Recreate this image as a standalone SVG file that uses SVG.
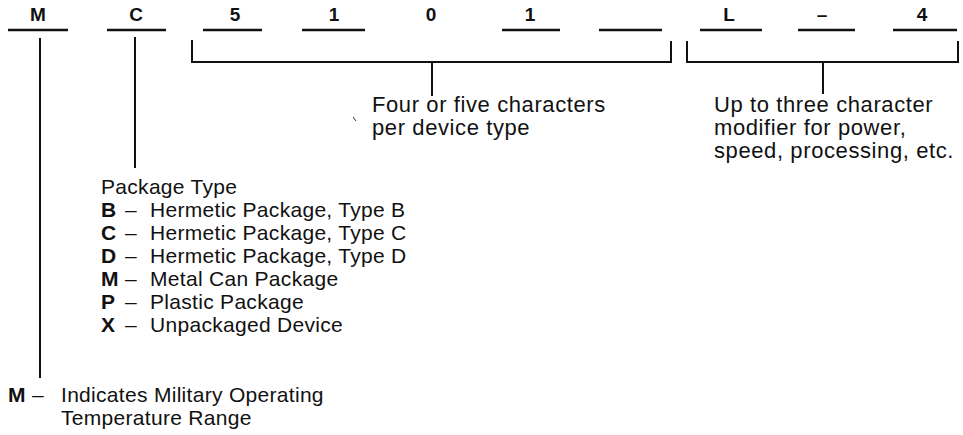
<svg xmlns="http://www.w3.org/2000/svg" width="963" height="435" viewBox="0 0 963 435">
<style>
.t{font-family:"Liberation Sans",Arial,sans-serif;font-size:21px;letter-spacing:0.3px;fill:#111}
.r{font-family:"Liberation Sans",Arial,sans-serif;font-size:22px;letter-spacing:0.6px;fill:#111}
.b{font-family:"Liberation Sans",Arial,sans-serif;font-size:21px;font-weight:bold;fill:#111}
.h{font-family:"Liberation Sans",Arial,sans-serif;font-size:19px;font-weight:bold;fill:#111;text-anchor:middle}
.l{stroke:#111;stroke-width:2;fill:none}
.u{stroke:#111;stroke-width:2.5;fill:none}
</style>
<rect width="963" height="435" fill="#fff"/>
<g id="code">
<text class="h" x="38" y="21">M</text>
<text class="h" x="136" y="21">C</text>
<text class="h" x="235" y="21">5</text>
<text class="h" x="334" y="21">1</text>
<text class="h" x="431" y="21">0</text>
<text class="h" x="530" y="21">1</text>
<text class="h" x="729" y="21">L</text>
<text class="h" x="822" y="21">–</text>
<text class="h" x="922" y="21">4</text>
<path class="u" d="M8 30H68M107 30H166M203 30H262M302 30H365M502 30H560M599 30H662M700 30H762M798 30H855M893 30H957"/>
</g>
<g id="connectors">
<path class="l" d="M40 38V378"/>
<path class="l" d="M135 37V168"/>
<path class="l" d="M192 40V62H671V41"/>
<path class="l" d="M432 62V96"/>
<path class="l" d="M687 41V62H958V41"/>
<path class="l" d="M823 62V94"/>
<path d="M353 117L356 121" stroke="#333" stroke-width="1" fill="none"/>
</g>
<g id="device-type">
<text class="r" x="372" y="112">Four or five characters</text>
<text class="r" x="372" y="135">per device type</text>
</g>
<g id="modifier">
<text class="r" x="714" y="112">Up to three character</text>
<text class="r" x="714" y="135">modifier for power,</text>
<text class="r" x="714" y="158">speed, processing, etc.</text>
</g>
<g id="package-type">
<text class="t" x="101" y="194">Package Type</text>
<text class="b" x="101" y="217">B</text><text class="t" x="125" y="217">–</text><text class="t" x="150" y="217">Hermetic Package, Type B</text>
<text class="b" x="101" y="240">C</text><text class="t" x="125" y="240">–</text><text class="t" x="150" y="240">Hermetic Package, Type C</text>
<text class="b" x="101" y="263">D</text><text class="t" x="125" y="263">–</text><text class="t" x="150" y="263">Hermetic Package, Type D</text>
<text class="b" x="101" y="286">M</text><text class="t" x="125" y="286">–</text><text class="t" x="150" y="286">Metal Can Package</text>
<text class="b" x="101" y="309">P</text><text class="t" x="125" y="309">–</text><text class="t" x="150" y="309">Plastic Package</text>
<text class="b" x="101" y="332">X</text><text class="t" x="125" y="332">–</text><text class="t" x="150" y="332">Unpackaged Device</text>
</g>
<g id="military">
<text class="b" x="8" y="402">M</text><text class="t" x="32" y="402">–</text><text class="t" x="61" y="402">Indicates Military Operating</text>
<text class="t" x="61" y="425">Temperature Range</text>
</g>
</svg>
